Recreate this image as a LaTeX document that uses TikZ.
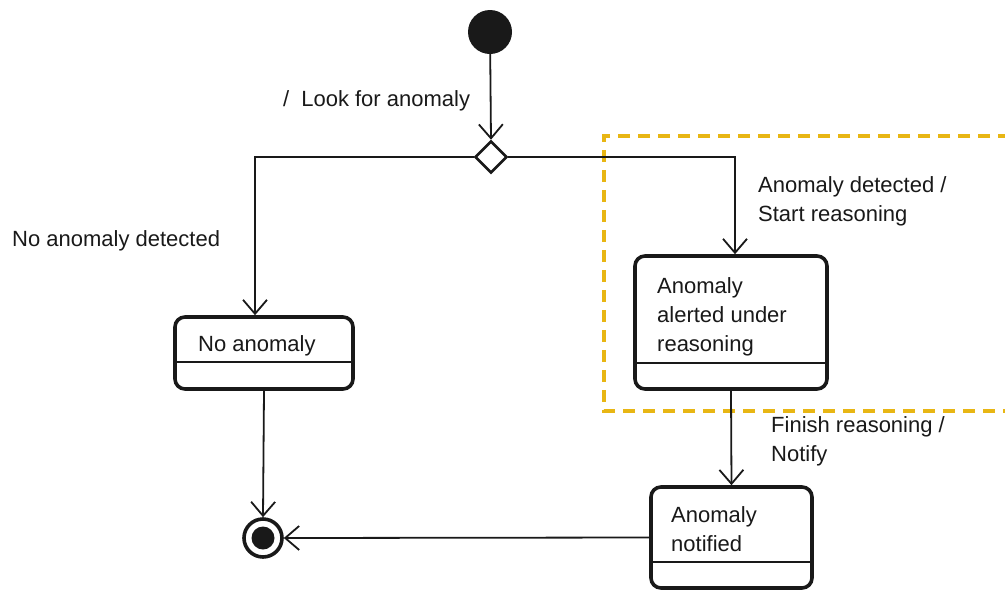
\documentclass[tikz,border=0pt]{standalone}
\usepackage{fontspec}
\setmainfont{Liberation Sans}
\usetikzlibrary{arrows.meta,shapes.geometric}
\definecolor{ink}{RGB}{25,25,25}
\definecolor{hl}{RGB}{232,182,20}
\begin{document}
\begin{tikzpicture}[x=1pt,y=-1pt,
  every node/.style={font=\fontsize{22}{29}\selectfont, text=ink},
  arr/.style={draw=ink, line width=1.8, -{Straight Barb[length=14,width=24,line width=1.8]}},
  conn/.style={draw=ink, line width=1.8},
  statebox/.style={draw=ink, line width=3.6, rounded corners=10, inner sep=0, fill=white},
  divider/.style={draw=ink, line width=1.6},
  lbl/.style={anchor=base west, inner sep=0, align=left}]
\useasboundingbox (0,0) rectangle (1005,590);
\clip (0,0) rectangle (1005,590);
% highlight region
\draw[hl, line width=3.6, dash pattern=on 12 off 8] (1010,136) -- (604,136) -- (604,411) -- (1010,411);
% initial, decision, final
\node[circle, fill=ink, minimum size=44, inner sep=0] (init) at (490,32) {};
\node[diamond, draw=ink, line width=2.6, fill=white, minimum width=32, minimum height=32, inner sep=0] (dec) at (491,157) {};
\node[circle, draw=ink, line width=3.6, minimum size=38, inner sep=0,
      path picture={\fill[ink] (path picture bounding box.center) circle (11.5);}] (fin) at (263,538) {};
% states
\node[statebox, minimum width=178, minimum height=72] (na) at (264,353) {};
\node[statebox, minimum width=192, minimum height=133] (alert) at (731,322.5) {};
\node[statebox, minimum width=161, minimum height=101] (notif) at (731.5,537.5) {};
\coordinate (naL) at (175,362); \coordinate (naR) at (353,362);
\coordinate (alL) at (635,363); \coordinate (alR) at (827,363);
\coordinate (noL) at (651,562); \coordinate (noR) at (812,562);
\draw[divider] (naL) -- (naR);
\draw[divider] (alL) -- (alR);
\draw[divider] (noL) -- (noR);
% state texts (base anchor = baseline of last line)
\node[lbl] (tna) at (198,351) {No anomaly};
\node[lbl] (tal) at (657,351) {Anomaly\\alerted under\\reasoning};
\node[lbl] (tno) at (671,551) {Anomaly\\notified};
% connectors
\draw[arr] (init) -- (dec.north);
\draw[arr] (dec.west) -| ([xshift=-9]na.north);
\draw[arr] (dec.east) -| ([xshift=4]alert.north);
\draw[arr] (alert.south) -- (notif.north);
\draw[arr] (na.south) -- (fin.north);
\draw[arr] (notif.west) -- (fin.east);
% transition labels
\node[lbl] (l1) at (283,106) {/\hspace{12pt}Look for anomaly};
\node[lbl] (l2) at (12,246) {No anomaly detected};
\node[lbl] (l3) at (758,221) {Anomaly detected /\\Start reasoning};
\node[lbl] (l4) at (771,461) {Finish reasoning /\\Notify};
\end{tikzpicture}
\end{document}
